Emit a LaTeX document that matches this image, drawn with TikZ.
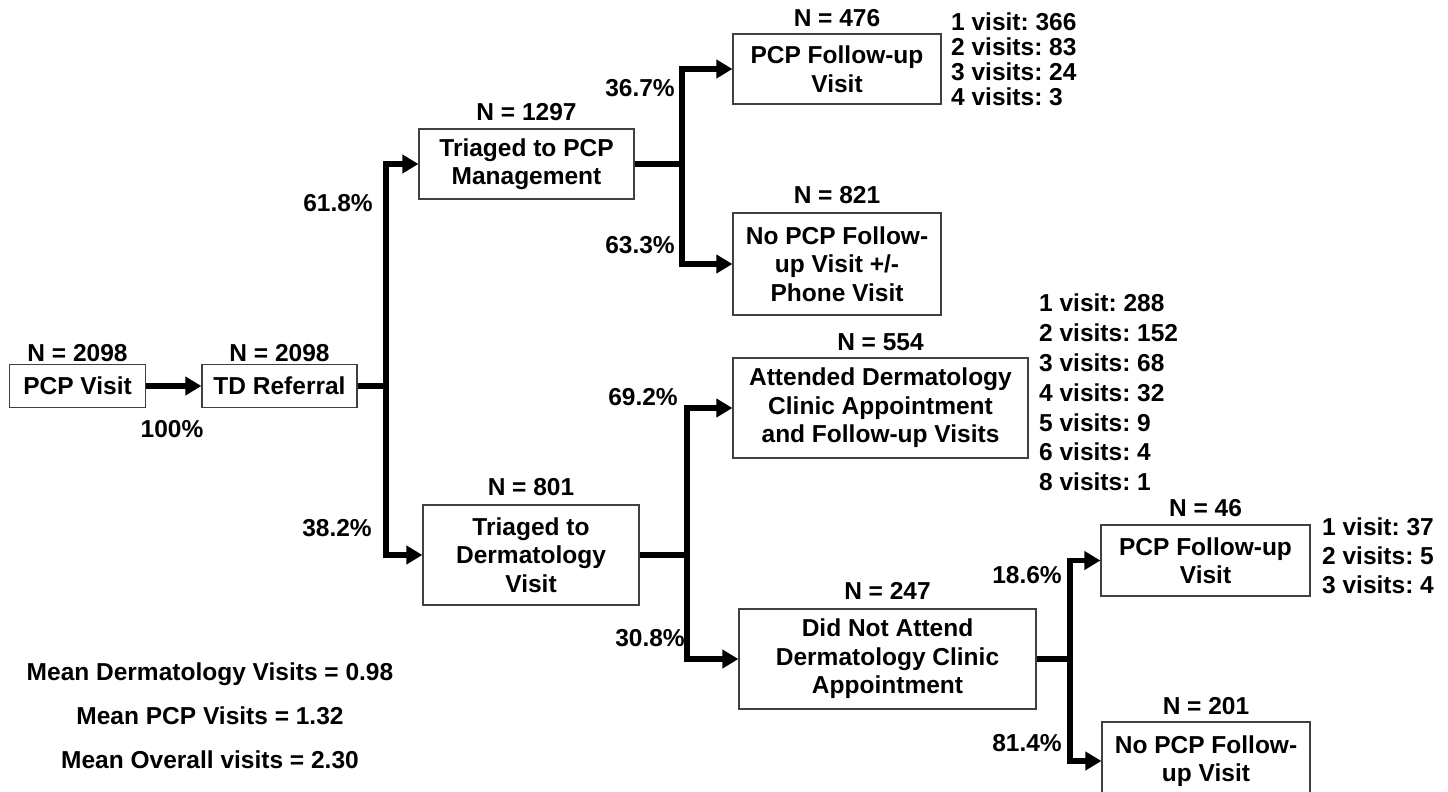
\documentclass[tikz,border=0pt]{standalone}
\usepackage{fontspec}
\setmainfont{Liberation Sans}
\usetikzlibrary{arrows.meta,positioning}
\frenchspacing

\begin{document}
\begin{tikzpicture}[x=1pt, y=-1pt,
  font=\fontsize{24.5}{28.5}\selectfont\bfseries,
  box/.style={draw=black!75, line width=1.2pt, align=center, inner sep=0pt},
  flow/.style={line width=5.5pt},
  arr/.style={line width=5.5pt, -{Triangle[length=16pt, width=18pt]}},
  nlab/.style={inner sep=0pt},
  pct/.style={inner sep=0pt},
  visits/.style={align=left, anchor=west, inner sep=0pt}]
  \useasboundingbox (0,0) rectangle (1448,792);
  \clip (0,0) rectangle (1448,792);

  \node[box, minimum width=136pt, minimum height=43pt] (pcp) at (77.5,386) {PCP Visit};
  \node[box, minimum width=155pt, minimum height=43pt] (tdref) at (279.5,386) {TD Referral};
  \node[box, minimum width=215pt, minimum height=70pt] (trpcp) at (526.5,164) {Triaged to PCP\\Management};
  \node[box, minimum width=216pt, minimum height=100pt] (trderm) at (531,555) {Triaged to\\Dermatology\\Visit};
  \node[box, minimum width=208pt, minimum height=70pt] (fupcp) at (837,69) {PCP Follow-up\\Visit};
  \node[box, minimum width=208pt, minimum height=102pt] (nofu) at (837,264) {No PCP Follow-\\up Visit +/-\\Phone Visit};
  \node[box, minimum width=295pt, minimum height=100pt] (attend) at (880.5,408) {Attended Dermatology\\Clinic Appointment\\and Follow-up Visits};
  \node[box, minimum width=297pt, minimum height=100pt] (dna) at (887.5,659) {Did Not Attend\\Dermatology Clinic\\Appointment};
  \node[box, minimum width=209pt, minimum height=71pt] (fupcpb) at (1205.5,560.5) {PCP Follow-up\\Visit};
  \node[box, minimum width=208pt, minimum height=78pt] (nofub) at (1206,761) {No PCP Follow-\\up Visit};

  \node[nlab, above=2pt of pcp] (npcp) {N = 2098};
  \node[nlab, above=2pt of tdref] (ntdref) {N = 2098};
  \node[nlab, above=7pt of trpcp] (ntrpcp) {N = 1297};
  \node[nlab, above=8pt of trderm] (ntrderm) {N = 801};
  \node[nlab, above=6pt of fupcp] (nfupcp) {N = 476};
  \node[nlab, above=8pt of nofu] (nnofu) {N = 821};
  \node[nlab, above=6pt of attend] (nattend) {N = 554};
  \node[nlab, above=9pt of dna] (ndna) {N = 247};
  \node[nlab, above=7pt of fupcpb] (nfupcpb) {N = 46};
  \node[nlab, above=6pt of nofub] (nnofub) {N = 201};

  \coordinate (j1) at (386,386);
  \coordinate (j2) at (682,164);
  \coordinate (j3) at (687,555);
  \coordinate (j4) at (1070,659);

  \draw[arr] (pcp.east) -- (tdref.west);
  \draw[flow] (tdref.east) -- (j1);
  \draw[arr] (j1) |- (trpcp.west);
  \draw[arr] (j1) |- (trderm.west);
  \draw[flow] (trpcp.east) -- (j2);
  \draw[arr] (j2) |- (fupcp.west);
  \draw[arr] (j2) |- (nofu.west);
  \draw[flow] (trderm.east) -- (j3);
  \draw[arr] (j3) |- (attend.west);
  \draw[arr] (j3) |- (dna.west);
  \draw[flow] (dna.east) -- (j4);
  \draw[arr] (j4) |- (fupcpb.west);
  \draw[arr] (j4) |- (nofub.west);

  \node[pct] (p100) at (172,429) {100\%};
  \node[pct] (p618) at (338,203) {61.8\%};
  \node[pct] (p382) at (337,528) {38.2\%};
  \node[pct] (p367) at (640,88) {36.7\%};
  \node[pct] (p633) at (640,245) {63.3\%};
  \node[pct] (p692) at (643,397) {69.2\%};
  \node[pct] (p308) at (650,638) {30.8\%};
  \node[pct] (p186) at (1027,575) {18.6\%};
  \node[pct] (p814) at (1027,743) {81.4\%};

  \node[visits, font=\fontsize{24.5}{25}\selectfont\bfseries] (vfupcp) at (951,59.5) {1 visit: 366\\2 visits: 83\\3 visits: 24\\4 visits: 3};
  \node[visits, font=\fontsize{24.5}{29.8}\selectfont\bfseries] (vattend) at (1039,392.5) {1 visit: 288\\2 visits: 152\\3 visits: 68\\4 visits: 32\\5 visits: 9\\6 visits: 4\\8 visits: 1};
  \node[visits, font=\fontsize{24.5}{29}\selectfont\bfseries] (vfupcpb) at (1322,556) {1 visit: 37\\2 visits: 5\\3 visits: 4};

  \node[align=center, inner sep=0pt, font=\fontsize{24.5}{44}\selectfont\bfseries] (means) at (210,716) {Mean Dermatology Visits = 0.98\\Mean PCP Visits = 1.32\\Mean Overall visits = 2.30};
\end{tikzpicture}
\end{document}
